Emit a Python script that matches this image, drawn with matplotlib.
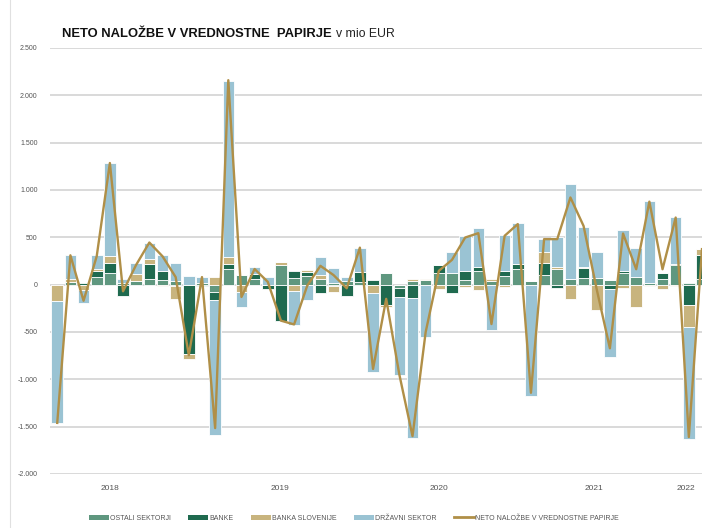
import numpy as np
import matplotlib.pyplot as plt
from matplotlib.patches import Patch
from matplotlib.lines import Line2D

plt.rcParams['font.family'] = ['Liberation Sans', 'DejaVu Sans']

# monthly data, mio EUR
ostali = [0, 30, 0, 85, 120, 20, 40, 56, 50, 40,
          0, 20, -80, 162, 99, 55, 0, 209, 70, 87,
          60, 20, 40, 25, 0, 120, -40, 40, 45, 118,
          123, 53, 148, 40, 95, 165, 35, 102, 165, 60,
          74, 74, 49, 123, 77, 15, 58, 211, 20, 58]
banke = [0, 0, 15, 60, 113, -120, 0, 160, 95, -15,
         -728, -10, -77, 53, 0, 60, -42, -385, 77, 52,
         -90, -15, -120, 110, 45, -210, -90, -140, 0, 88,
         -88, 95, 35, 0, 46, 53, 0, 127, -35, 0,
         99, 0, -46, 25, 0, 0, 63, 7, -216, 253]
banka_slo = [-175, 25, -55, 18, 70, 0, 70, 53, -15, -135,
             -60, 0, 77, 78, -75, 0, 0, 28, -70, 14,
             40, -60, 0, 0, -85, -28, 0, 20, 20, -45,
             0, -20, -56, 15, -28, 0, 0, 113, 18, -150,
             18, -265, 0, -35, -240, -18, -46, -15, -235, 63]
drzavni = [-1290, 260, -135, 148, 978, 36, 116, 176, 173, 186,
           87, 60, -1428, 1857, -160, 75, 77, 0, -360, -167,
           190, 158, 40, 256, -835, 0, -820, -1480, -556, 0,
           225, 370, 412, -480, 387, 433, -1181, 141, 317, 1003,
           423, 271, -714, 430, 310, 865, 0, 500, -1176, 0]
neto = [-1460, 310, -170, 300, 1285, -70, 210, 445, 300, 80,
        -745, 80, -1515, 2160, -130, 165, 30, -380, -420, -10,
        199, 101, -38, 391, -890, -150, -950, -1600, -500, 146,
        262, 498, 544, -416, 516, 640, -1142, 481, 481, 921,
        620, -50, -672, 540, 163, 877, 163, 709, -1609, 375]

years = ['2018', '2019', '2020', '2021', '2022']
year_pos = [4.0, 16.9, 29.0, 40.8, 47.8]

series = [('OSTALI SEKTORJI', ostali, '#5f977f'),
          ('BANKE', banke, '#1f6a4f'),
          ('BANKA SLOVENIJE', banka_slo, '#c8b47e'),
          ('DRŽAVNI SEKTOR', drzavni, '#9ac3d3')]
line_col = '#b08f47'

fig = plt.figure(figsize=(7.02, 5.28), dpi=100)
ax = fig.add_axes([50/702, 1-474/528, 652/702, 426/528])

x = np.arange(len(neto))
pos_base = np.zeros(len(x))
neg_base = np.zeros(len(x))
for name, vals, col in series:
    v = np.array(vals, dtype=float)
    bottom = np.where(v >= 0, pos_base, neg_base)
    ax.bar(x, v, bottom=bottom, width=0.88, color=col, edgecolor='white',
           linewidth=0.6, zorder=2)
    pos_base += np.where(v > 0, v, 0)
    neg_base += np.where(v < 0, v, 0)

ax.plot(x, neto, color=line_col, lw=1.7, zorder=3)

ax.set_xlim(-0.55, 49.0)
ax.set_ylim(-2000, 2500)
ax.set_yticks(np.arange(-2000, 2501, 500))
ax.set_yticklabels([f'{t:,}'.replace(',', '.') for t in range(-2000, 2501, 500)])
ax.set_xticks(year_pos)
ax.set_xticklabels(years)
ax.grid(axis='y', color='#d0d0d0', lw=1.1, zorder=0)
ax.set_axisbelow(True)
for s in ax.spines.values():
    s.set_visible(False)
ax.tick_params(axis='y', length=0, labelsize=5, labelcolor='#555555', pad=9)
ax.tick_params(axis='x', length=0, labelsize=6, labelcolor='#555555', pad=8)

# chart border at left
fig.add_artist(Line2D([10/702, 10/702], [0, 1], color='#e0e0e0', lw=0.8))

t1 = fig.text(62/702, 1-37/528, 'NETO NALOŽBE V VREDNOSTNE  PAPIRJE', fontsize=9.4,
              fontweight='bold', color='#111111', va='baseline')
fig.canvas.draw()
bb = t1.get_window_extent()
fig.text((bb.x1 + 4)/702, 1-37/528, 'v mio EUR', fontsize=8.8, color='#222222',
         va='baseline')

handles = [Patch(facecolor=c, edgecolor='none', label=n) for n, _, c in series]
handles.append(Line2D([0], [0], color=line_col, lw=2, label='NETO NALOŽBE V VREDNOSTNE PAPIRJE'))
fig.legend(handles=handles, loc='center', bbox_to_anchor=(0.504, 1-518/528), ncol=5,
           frameon=False, fontsize=5, handlelength=2.9, handleheight=0.7,
           handletextpad=0.15, columnspacing=2.5, labelcolor='#555555')

fig.savefig('out.png', dpi=100)
